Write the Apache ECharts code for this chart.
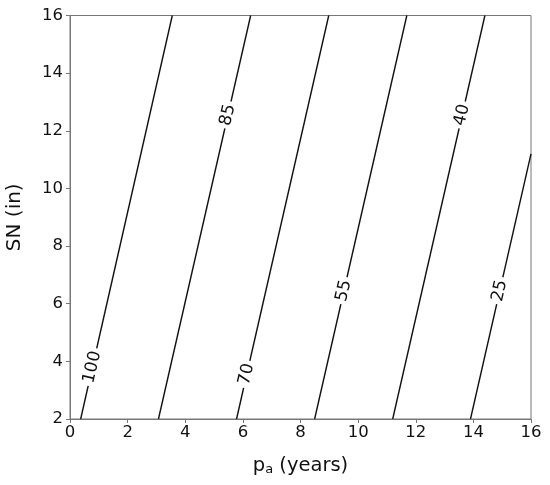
<!DOCTYPE html>
<html>
<head>
<meta charset="utf-8">
<script src="https://cdn.jsdelivr.net/npm/echarts@6/dist/echarts.min.js"></script>
<style>html,body{margin:0;padding:0;background:#fff}#c{width:550px;height:485px}</style>
</head>
<body>
<div id="c"></div>
<script>
// contour levels and their end points
var levels = [100, 85, 70, 55, 40, 25];
var startX = [0.37, 3.07, 5.78, 8.49, 11.20, 13.90];   // x at SN = 2
var endX   = [3.55, 6.27, 8.98, 11.69, 14.40, 16.00];  // x at end point
var endY   = [16, 16, 16, 16, 16, 11.2];              // SN at end point
var labelY = [3.8, 12.55, 3.55, 6.45, 12.55, 6.45];   // SN where inline label sits
var xTicks = [0, 2, 4, 6, 8, 10, 12, 14, 16];
var yTicks = [2, 4, 6, 8, 10, 12, 14, 16];

var chart = echarts.init(document.getElementById('c'));
var series = [];
levels.forEach(function (lv, i) {
  series.push({
    type: 'line', data: [[startX[i], 2], [endX[i], endY[i]]],
    showSymbol: false, symbol: 'none', silent: true, z: 2,
    lineStyle: { color: '#111', width: 1.4 }
  });
});
var labelData = levels.map(function (lv, i) {
  var t = (labelY[i] - 2) / (endY[i] - 2);
  return { value: [startX[i] + t * (endX[i] - startX[i]), labelY[i]], name: String(lv) };
});
series.push({
  type: 'scatter', data: labelData, symbolSize: 0, z: 5, silent: true,
  itemStyle: { opacity: 1 },
  label: {
    show: true, position: 'inside', formatter: '{b}', rotate: 77,
    color: '#111', fontSize: 17, fontFamily: 'DejaVu Sans', opacity: 1,
    backgroundColor: '#fff', padding: [0, 3]
  }
});

var axisCommon = {
  axisLine: { show: true, onZero: false, lineStyle: { color: '#777', width: 1 } },
  axisTick: { show: true, inside: false, length: 4, lineStyle: { color: '#777' } },
  splitLine: { show: false },
  axisLabel: { color: '#111', fontSize: 16.5, fontFamily: 'DejaVu Sans' }
};

chart.setOption({
  animation: false,
  backgroundColor: '#fff',
  grid: { left: 70, right: 19, top: 15.5, bottom: 66, containLabel: false, outerBoundsMode: 'none',
          show: true, borderColor: '#777', borderWidth: 1, backgroundColor: 'transparent' },
  xAxis: Object.assign({}, axisCommon, {
    type: 'value', min: xTicks[0], max: xTicks[xTicks.length - 1], interval: 2,
    name: '{p|p}{s|a}{p| (years)}', nameLocation: 'middle', nameGap: 37,
    nameTextStyle: {
      color: '#111', fontFamily: 'DejaVu Sans',
      rich: {
        p: { fontSize: 19.5, color: '#111', fontFamily: 'DejaVu Sans' },
        s: { fontSize: 13, color: '#111', fontFamily: 'DejaVu Sans', verticalAlign: 'bottom', padding: [7, 0, 0, 0] }
      }
    },
    axisLabel: Object.assign({}, axisCommon.axisLabel, { margin: 5 })
  }),
  yAxis: Object.assign({}, axisCommon, {
    type: 'value', min: yTicks[0], max: yTicks[yTicks.length - 1], interval: 2,
    name: 'SN (in)', nameLocation: 'middle', nameGap: 45, nameRotate: 90,
    nameTextStyle: { color: '#111', fontSize: 20, fontFamily: 'DejaVu Sans' },
    axisLabel: Object.assign({}, axisCommon.axisLabel, { margin: 7 })
  }),
  series: series
});
</script>
</body>
</html>
